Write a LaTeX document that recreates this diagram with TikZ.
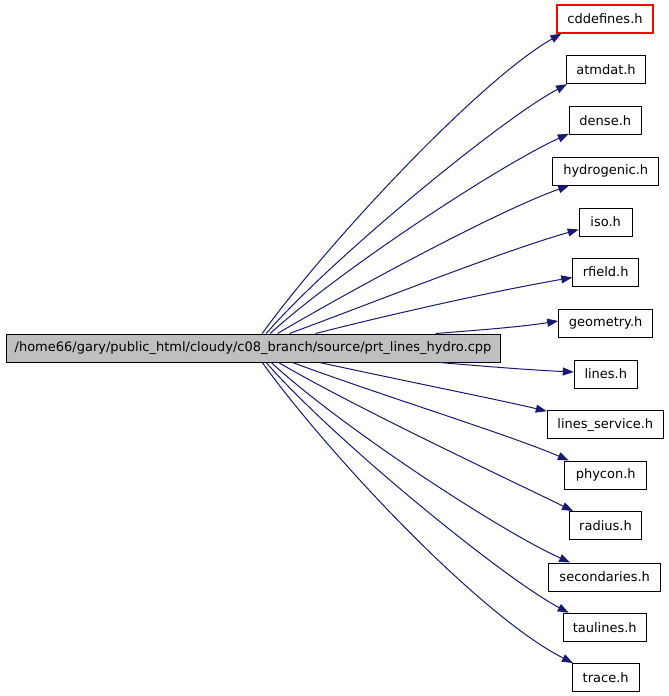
\documentclass[tikz,border=0pt]{standalone}
\usepackage{fontspec}
\setmainfont{DejaVu Sans}
\usetikzlibrary{calc,arrows.meta}
\definecolor{edgeblue}{HTML}{191970}
\definecolor{srcgray}{HTML}{BFBFBF}
\definecolor{boxred}{HTML}{FF0000}
\begin{document}
\begin{tikzpicture}[x=1pt,y=-1pt,
  box/.style={draw=black,line width=1pt,inner sep=0pt,minimum height=28pt,font=\fontsize{13}{15}\selectfont,anchor=center},
  redbox/.style={draw=boxred,line width=1.15pt,inner sep=0pt,minimum height=28pt,font=\fontsize{13}{15}\selectfont,anchor=center},
  srcbox/.style={box,fill=srcgray},
  dep/.style={draw=edgeblue,line width=1pt,-{Triangle[length=11pt,width=8pt]}}]
\useasboundingbox (0,0) rectangle (669,696);
\node[srcbox,minimum width=494pt] (src) at (253,348) {/home66/gary/public\_html/cloudy/c08\_branch/source/prt\_lines\_hydro.cpp};
\node[redbox,minimum width=96pt] (cdd) at (605,19) {cddefines.h};
\node[box,minimum width=79pt] (atm) at (606,69.7) {atmdat.h};
\node[box,minimum width=72pt] (den) at (605.3,120.3) {dense.h};
\node[box,minimum width=106pt] (hyd) at (605.7,171) {hydrogenic.h};
\node[box,minimum width=53pt] (iso) at (605.7,222) {iso.h};
\node[box,minimum width=66pt] (rfi) at (605.7,272) {rfield.h};
\node[box,minimum width=94pt] (geo) at (605.7,323) {geometry.h};
\node[box,minimum width=63pt] (lin) at (605.8,374) {lines.h};
\node[box,minimum width=116pt] (lse) at (605.3,424.7) {lines\_service.h};
\node[box,minimum width=82pt] (phy) at (605.7,475) {phycon.h};
\node[box,minimum width=72pt] (rad) at (605.5,525.5) {radius.h};
\node[box,minimum width=112pt] (sec) at (604.7,577) {secondaries.h};
\node[box,minimum width=83pt] (tau) at (604.7,627.3) {taulines.h};
\node[box,minimum width=67pt] (tra) at (605.7,677.5) {trace.h};
% edges upward
\draw[dep] ($(src.north west)+(256.7,0)$) .. controls (330,240) and (480,80) .. ($(cdd.south west)+(5,0)$);
\draw[dep] ($(src.north west)+(260.7,0)$) .. controls (330,260) and (500,120) .. ($(atm.south west)+(1,0)$);
\draw[dep] ($(src.north west)+(264.7,0)$) .. controls (340,270) and (500,165) .. ($(den.south west)+(0,-1)$);
\draw[dep] ($(src.north west)+(272,0)$) .. controls (360,285) and (500,210) .. ($(hyd.south west)+(17,0)$);
\draw[dep] ($(src.north west)+(284,0)$) .. controls (380,300) and (500,252) .. ($(iso.south west)+(0,-7)$);
\draw[dep] ($(src.north west)+(310,0)$) .. controls (400,312) and (500,290) .. ($(rfi.south west)+(0,-9)$);
\draw[dep] ($(src.north west)+(430,0)$) .. controls (480,330) and (520,327) .. ($(geo.west)+(0,-2)$);
% edges downward
\draw[dep] ($(src.south west)+(434,0)$) .. controls (480,366) and (530,370) .. ($(lin.west)+(0,-2)$);
\draw[dep] ($(src.south west)+(314,0)$) .. controls (400,380) and (500,400) .. ($(lse.north west)+(0,1)$);
\draw[dep] ($(src.south west)+(287,0)$) .. controls (380,395) and (510,435) .. ($(phy.north west)+(4.6,0)$);
\draw[dep] ($(src.south west)+(273,0)$) .. controls (360,410) and (510,480) .. ($(rad.north west)+(4,0)$);
\draw[dep] ($(src.south west)+(265.7,0)$) .. controls (340,426) and (500,531) .. ($(sec.north west)+(22,0)$);
\draw[dep] ($(src.south west)+(260.7,0)$) .. controls (330,436) and (500,576) .. ($(tau.north west)+(6,0)$);
\draw[dep] ($(src.south west)+(256.7,0)$) .. controls (330,456) and (480,616) .. ($(tra.north west)+(1.3,0)$);
\end{tikzpicture}
\end{document}
